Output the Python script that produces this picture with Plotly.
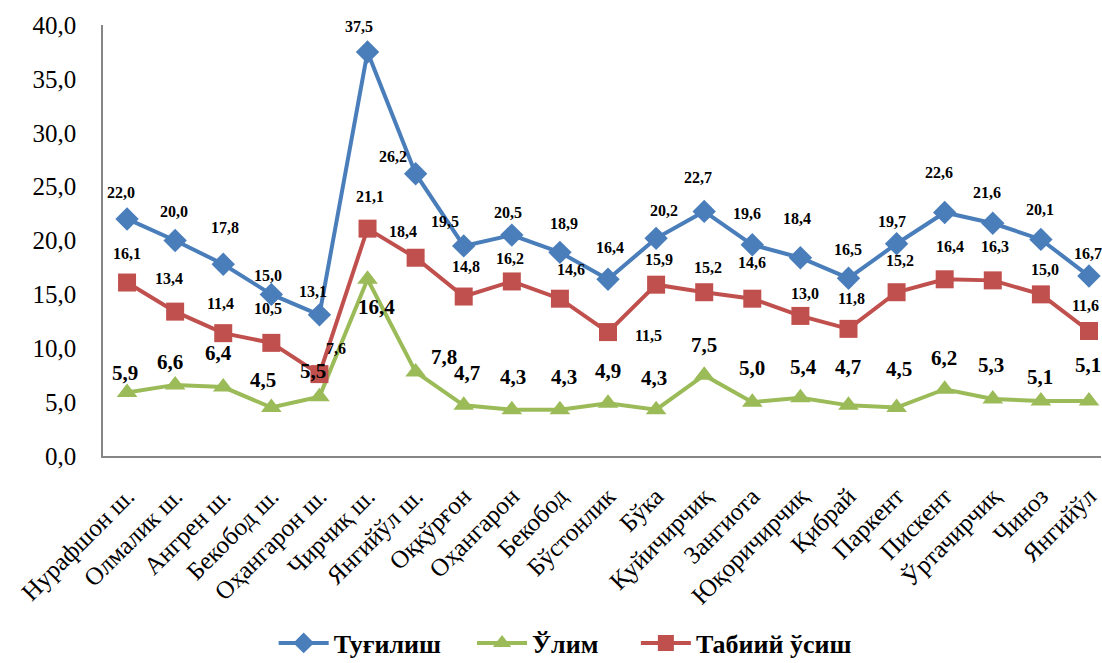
import plotly.graph_objects as go

categories = ["Нурафшон ш.", "Олмалик ш.", "Ангрен ш.", "Бекобод ш.", "Оҳангарон ш.",
              "Чирчиқ ш.", "Янгийўл ш.", "Оққўрғон", "Оҳангарон", "Бекобод",
              "Бўстонлик", "Бўка", "Қуйичирчиқ", "Зангиота", "Юқоричирчиқ",
              "Қибрай", "Паркент", "Пискент", "Ўртачирчиқ", "Чиноз", "Янгийўл"]

births = [22.0, 20.0, 17.8, 15.0, 13.1, 37.5, 26.2, 19.5, 20.5, 18.9, 16.4,
          20.2, 22.7, 19.6, 18.4, 16.5, 19.7, 22.6, 21.6, 20.1, 16.7]
deaths = [5.9, 6.6, 6.4, 4.5, 5.5, 16.4, 7.8, 4.7, 4.3, 4.3, 4.9,
          4.3, 7.5, 5.0, 5.4, 4.7, 4.5, 6.2, 5.3, 5.1, 5.1]
natural = [16.1, 13.4, 11.4, 10.5, 7.6, 21.1, 18.4, 14.8, 16.2, 14.6, 11.5,
           15.9, 15.2, 14.6, 13.0, 11.8, 15.2, 16.4, 16.3, 15.0, 11.6]

y_ticks = [0, 5, 10, 15, 20, 25, 30, 35, 40]

# label offsets in pixels (dx, dy with dy downward)
births_off = [(-6, -26), (-1, -29), (2, -37), (-3, -19), (-6, -23), (-9, -25), (-23, -17),
              (-19, -24), (-4, -23), (4, -29), (2, -32), (8, -28), (-6, -34), (-5, -31),
              (-3, -39), (0, -29), (-5, -22), (-6, -40), (-6, -31), (-1, -30), (-1, -23)]
natural_off = [(0, -29), (-6, -33), (-3, -30), (-3, -34), (17, -26), (2, -32), (-13, -26),
               (2, -30), (-2, -23), (11, -29), (40, 3), (3, -25), (4, -25), (0, -36),
               (5, -22), (3, -30), (3, -32), (5, -33), (2, -34), (4, -25), (-3, -26)]
deaths_off = [(-2, -19), (-5, -23), (-5, -34), (-8, -28), (-6, -26), (9, 28), (28, -15),
              (3, -32), (1, -33), (4, -33), (0, -32), (-2, -32), (0, -30), (0, -34),
              (3, -31), (0, -38), (2, -39), (-1, -31), (-2, -34), (-1, -24), (-1, -36)]

BLUE = "#4A7EBB"
GREEN = "#9BBB59"
RED = "#C0504D"
FONT = "Liberation Serif"
NB = "\u00a0"

fig = go.Figure()
fig.add_trace(go.Scatter(x=categories, y=births, name="Туғилиш" + NB * 4, mode="lines+markers",
                         line=dict(color=BLUE, width=4),
                         marker=dict(symbol="diamond", size=18, color=BLUE)))
fig.add_trace(go.Scatter(x=categories, y=deaths, name="Ўлим" + NB * 5, mode="lines+markers",
                         line=dict(color=GREEN, width=4),
                         marker=dict(symbol="triangle-up", size=18, color=GREEN)))
fig.add_trace(go.Scatter(x=categories, y=natural, name="Табиий ўсиш", mode="lines+markers",
                         line=dict(color=RED, width=4),
                         marker=dict(symbol="square", size=18, color=RED)))


def fmt(v):
    return f"{v:.1f}".replace(".", ",")


annotations = []
for vals, offs, size in [(births, births_off, 16), (natural, natural_off, 16), (deaths, deaths_off, 21)]:
    for c, v, (dx, dy) in zip(categories, vals, offs):
        annotations.append(dict(x=c, y=v, xref="x", yref="y", text="<b>" + fmt(v) + "</b>",
                                showarrow=False, xshift=dx, yshift=-dy,
                                font=dict(family=FONT, size=size, color="black")))

fig.update_layout(
    width=1102, height=663,
    paper_bgcolor="white", plot_bgcolor="white",
    margin=dict(l=103, r=1, t=25, b=207, autoexpand=False),
    separators=", ",
    showlegend=True,
    legend=dict(orientation="h", x=0.171, xanchor="left", y=-0.434, yanchor="middle",
                font=dict(family=FONT, size=26, color="black", weight="bold"),
                itemwidth=50),
    annotations=annotations,
    font=dict(family=FONT, color="black"),
)
fig.update_xaxes(type="category", range=[-0.5, 20.25], showgrid=False,
                 showline=True, linecolor="#868686", linewidth=1.5,
                 tickangle=-45, tickfont=dict(family=FONT, size=25, color="black"),
                 ticks="", ticklabelstandoff=14, fixedrange=True)
fig.update_yaxes(range=[0, 40], tickvals=y_ticks, tickformat=".1f", showgrid=False,
                 showline=True, linecolor="#868686", linewidth=1.5, zeroline=False,
                 tickfont=dict(family=FONT, size=25, color="black"),
                 ticks="", ticklabelstandoff=20)

fig.write_html("out.html", config={"displayModeBar": False},
               post_script="document.body.style.margin='0';document.body.style.overflow='hidden';")
